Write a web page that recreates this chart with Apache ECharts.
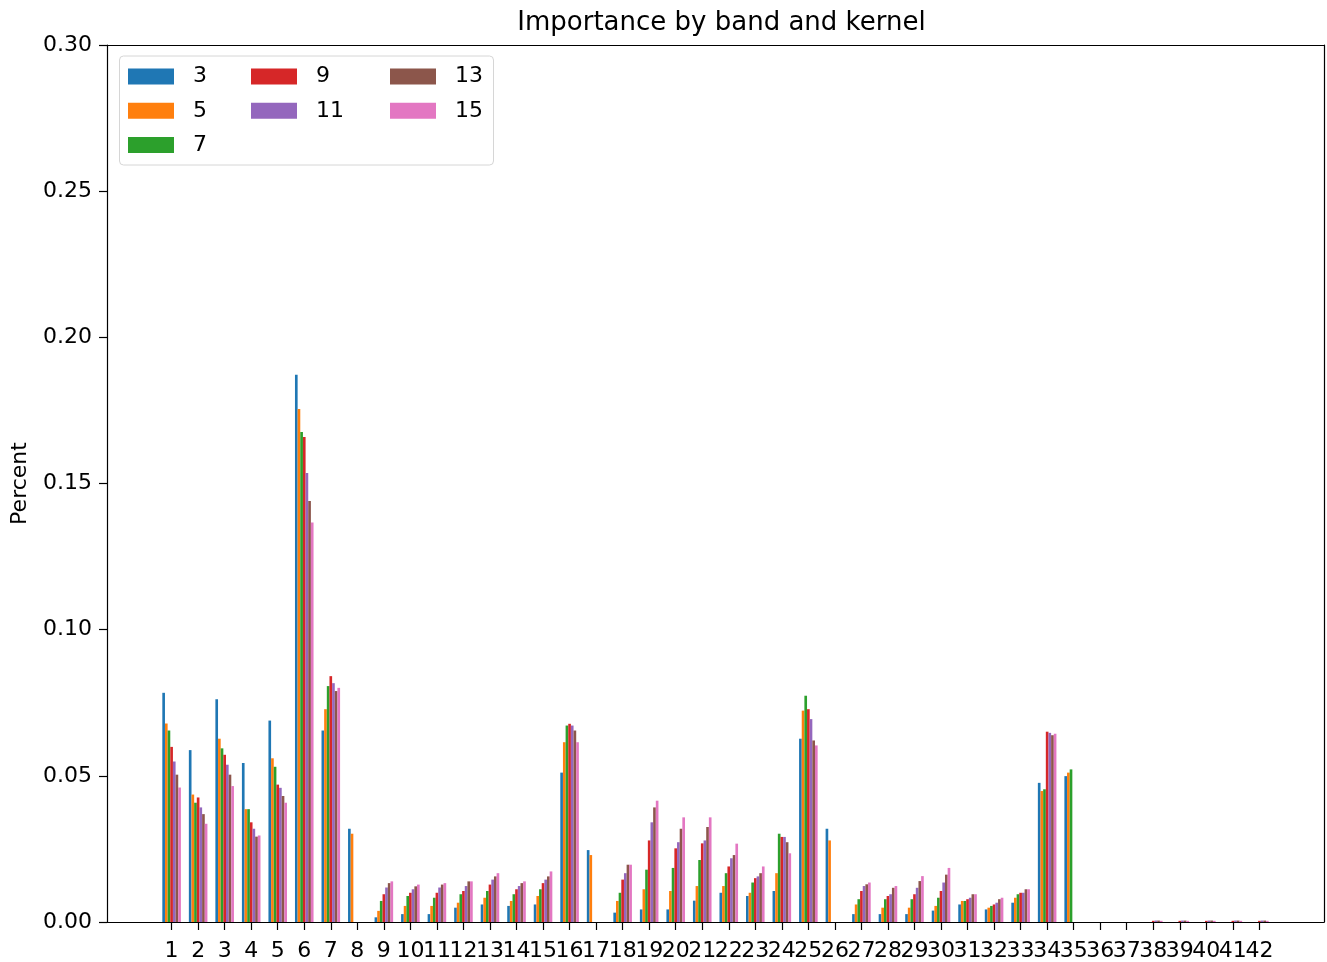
<!DOCTYPE html>
<html>
<head>
<meta charset="utf-8">
<script src="https://cdn.jsdelivr.net/npm/echarts@6/dist/echarts.min.js"></script>
<style>
  html, body { margin: 0; padding: 0; background: #fff; }
  #chart { width: 1327px; height: 962px; }
</style>
</head>
<body>
<div id="chart"></div>
<script>
// Band numbers along the x axis
const bands = [1,2,3,4,5,6,7,8,9,10,11,12,13,14,15,16,17,18,19,20,21,
               22,23,24,25,26,27,28,29,30,31,32,33,34,35,36,37,38,39,40,41,42];

// Kernel sizes (one bar series each)
const kernels = ['3', '5', '7', '9', '11', '13', '15'];

// Importance per band for each kernel size
const k3 = [0.0784, 0.0588, 0.0762, 0.0544, 0.0689, 0.1872, 0.0655, 0.0319, 0.0016, 0.0027,
            0.0027, 0.0049, 0.0060, 0.0055, 0.0060, 0.0511, 0.0246, 0.0032, 0.0043, 0.0043,
            0.0073, 0.0100, 0.0089, 0.0106, 0.0627, 0.0319, 0.0027, 0.0027, 0.0027, 0.0039,
            0.0060, 0.0043, 0.0066, 0.0476, 0.0499, 0, 0, 0, 0, 0, 0, 0];
const k5 = [0.0679, 0.0436, 0.0627, 0.0386, 0.0560, 0.1755, 0.0728, 0.0302, 0.0038, 0.0055,
            0.0055, 0.0066, 0.0083, 0.0072, 0.0089, 0.0615, 0.0229, 0.0072, 0.0112, 0.0106,
            0.0123, 0.0123, 0.0100, 0.0167, 0.0723, 0.0279, 0.0060, 0.0049, 0.0049, 0.0055,
            0.0072, 0.0049, 0.0083, 0.0448, 0.0511, 0, 0, 0, 0, 0, 0, 0];
const k7 = [0.0655, 0.0408, 0.0594, 0.0386, 0.0531, 0.1676, 0.0807, 0, 0.0072, 0.0089,
            0.0083, 0.0095, 0.0106, 0.0095, 0.0112, 0.0672, 0, 0.0100, 0.0179, 0.0185,
            0.0212, 0.0167, 0.0135, 0.0302, 0.0774, 0, 0.0078, 0.0078, 0.0078, 0.0083,
            0.0072, 0.0055, 0.0095, 0.0454, 0.0522, 0, 0, 0, 0, 0, 0, 0];
const k9 = [0.0599, 0.0426, 0.0572, 0.0341, 0.0470, 0.1659, 0.0841, 0, 0.0095, 0.0100,
            0.0100, 0.0106, 0.0128, 0.0112, 0.0133, 0.0678, 0, 0.0145, 0.0279, 0.0252,
            0.0269, 0.0190, 0.0150, 0.0291, 0.0728, 0, 0.0106, 0.0089, 0.0095, 0.0106,
            0.0078, 0.0060, 0.0100, 0.0651, 0, 0, 0, 0.0004, 0.0004, 0.0004, 0.0004, 0.0004];
const k11 = [0.0549, 0.0392, 0.0538, 0.0319, 0.0459, 0.1536, 0.0817, 0, 0.0118, 0.0112,
             0.0118, 0.0123, 0.0145, 0.0123, 0.0145, 0.0672, 0, 0.0167, 0.0341, 0.0273,
             0.0279, 0.0218, 0.0156, 0.0291, 0.0694, 0, 0.0123, 0.0095, 0.0117, 0.0135,
             0.0083, 0.0066, 0.0100, 0.0647, 0, 0, 0, 0.0005, 0.0005, 0.0005, 0.0005, 0.0005];
const k13 = [0.0504, 0.0369, 0.0504, 0.0292, 0.0431, 0.1440, 0.0790, 0, 0.0133, 0.0122,
             0.0128, 0.0139, 0.0156, 0.0133, 0.0156, 0.0655, 0, 0.0196, 0.0392, 0.0319,
             0.0325, 0.0229, 0.0167, 0.0273, 0.0621, 0, 0.0129, 0.0117, 0.0140, 0.0162,
             0.0095, 0.0078, 0.0112, 0.0639, 0, 0, 0, 0.0005, 0.0005, 0.0005, 0.0005, 0.0005];
const k15 = [0.0460, 0.0336, 0.0465, 0.0296, 0.0408, 0.1367, 0.0801, 0, 0.0139, 0.0128,
             0.0133, 0.0139, 0.0167, 0.0139, 0.0173, 0.0615, 0, 0.0196, 0.0415, 0.0358,
             0.0358, 0.0268, 0.0190, 0.0235, 0.0604, 0, 0.0135, 0.0123, 0.0157, 0.0185,
             0.0095, 0.0083, 0.0112, 0.0644, 0, 0, 0, 0.0004, 0.0004, 0.0004, 0.0004, 0.0004];

const seriesValues = [k3, k5, k7, k9, k11, k13, k15];
const colors = ['#1f77b4', '#ff7f0e', '#2ca02c', '#d62728', '#9467bd', '#8c564b', '#e377c2'];

const FONT = 'DejaVu Sans';
const BAR_W = 0.1;      // bar width in band units
const X_MIN = -1.435;   // x extent: bar groups plus a 5% margin on each side
const X_MAX = 44.435;

// Label slots: one per band, plus a blank end slot so the band labels
// are never treated as an overlapping first/last pair and dropped.
const labelSlots = bands.concat([X_MAX]);

const chart = echarts.init(document.getElementById('chart'), null, { renderer: 'canvas' });

// One custom series per kernel; bars are offset around each band position
const series = kernels.map((name, k) => {
  const offset = (k - 3) * BAR_W;
  return {
    type: 'custom',
    name: name,
    itemStyle: { color: colors[k] },
    encode: { x: 0, y: 1 },
    data: bands.map((b, i) => [b, seriesValues[k][i]]),
    renderItem: (params, api) => {
      const x = api.value(0) + offset;
      const v = api.value(1);
      const p0 = api.coord([x - BAR_W / 2, v]);
      const p1 = api.coord([x + BAR_W / 2, 0]);
      return {
        type: 'rect',
        shape: { x: p0[0], y: p0[1], width: p1[0] - p0[0], height: p1[1] - p0[1] },
        style: { fill: colors[k] }
      };
    }
  };
});

const legendCommon = {
  orient: 'vertical',
  icon: 'rect',
  itemWidth: 46,
  itemHeight: 16,
  itemGap: 12.3,
  padding: 0,
  selectedMode: false,
  textStyle: { fontFamily: FONT, fontSize: 22, color: '#000', padding: [0, 0, 0, 14] }
};

const option = {
  animation: false,
  backgroundColor: '#fff',
  title: {
    text: 'Importance by band and kernel',
    left: 716.5,
    textAlign: 'center',
    top: 5,
    textStyle: { fontFamily: FONT, fontSize: 26, fontWeight: 'normal', color: '#000' }
  },
  legend: [
    Object.assign({}, legendCommon, { data: kernels.slice(0, 3), left: 128, top: 65.5 }),
    Object.assign({}, legendCommon, { data: kernels.slice(3, 5), left: 251, top: 65.5 }),
    Object.assign({}, legendCommon, { data: kernels.slice(5, 7), left: 390, top: 65.5 })
  ],
  graphic: [{
    type: 'rect',
    z: -1,
    shape: { x: 119.5, y: 56, width: 374, height: 109, r: 4 },
    style: { fill: 'rgba(255,255,255,0.8)', stroke: '#d6d6d6', lineWidth: 1 }
  }],
  grid: { left: 107, top: 45, width: 1219, height: 878, containLabel: false },
  xAxis: [{
    type: 'value',
    min: X_MIN,
    max: X_MAX,
    splitLine: { show: false },
    axisLine: { show: true, onZero: false, lineStyle: { color: '#000', width: 1.2 } },
    axisTick: { show: true, customValues: bands.slice(), length: 8, lineStyle: { color: '#000', width: 1.2 } },
    axisLabel: {
      customValues: labelSlots,
      showMinLabel: true,
      showMaxLabel: true,
      hideOverlap: false,
      margin: 18,
      fontFamily: FONT, fontSize: 22, color: '#000',
      formatter: v => (bands.indexOf(v) >= 0 ? String(v) : '')
    }
  }, {
    type: 'value',
    position: 'top',
    min: X_MIN,
    max: X_MAX,
    splitLine: { show: false },
    axisLine: { show: true, onZero: false, lineStyle: { color: '#000', width: 1.2 } },
    axisTick: { show: false },
    axisLabel: { show: false }
  }],
  yAxis: [{
    type: 'value',
    min: 0,
    max: 0.3,
    interval: 0.05,
    name: 'Percent',
    nameLocation: 'middle',
    nameGap: 76,
    nameTextStyle: { fontFamily: FONT, fontSize: 22, color: '#000' },
    splitLine: { show: false },
    axisLine: { show: true, onZero: false, lineStyle: { color: '#000', width: 1.2 } },
    axisTick: { show: true, length: 8, lineStyle: { color: '#000', width: 1.2 } },
    axisLabel: {
      margin: 15,
      showMinLabel: true,
      showMaxLabel: true,
      fontFamily: FONT, fontSize: 22, color: '#000',
      formatter: v => v.toFixed(2)
    }
  }, {
    type: 'value',
    position: 'right',
    min: 0,
    max: 0.3,
    splitLine: { show: false },
    axisLine: { show: true, onZero: false, lineStyle: { color: '#000', width: 1.2 } },
    axisTick: { show: false },
    axisLabel: { show: false }
  }],
  series: series
};

chart.setOption(option);
</script>
</body>
</html>
